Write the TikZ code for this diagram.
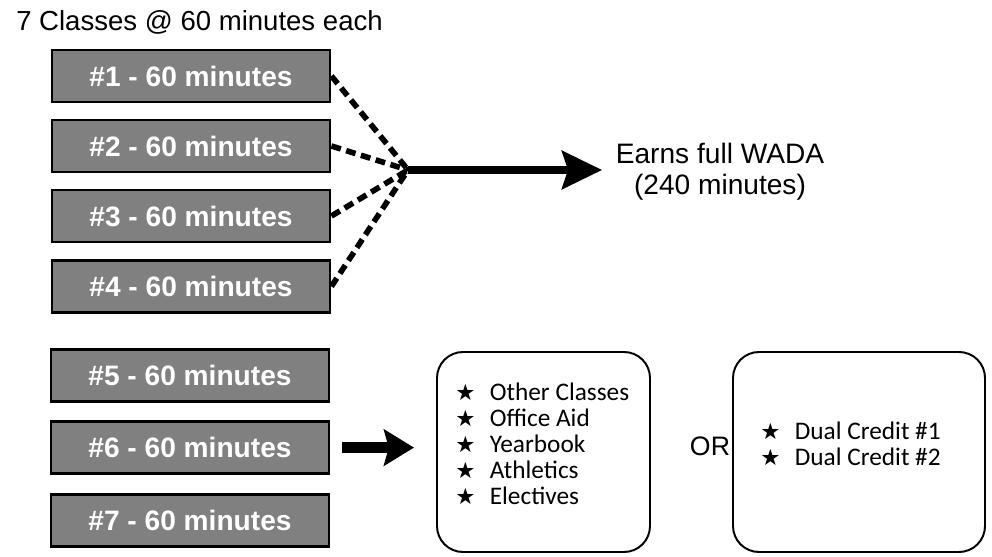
\documentclass[tikz,border=0pt]{standalone}
\usepackage{fontspec}
\setmainfont{Liberation Sans}
\newfontfamily\calfont{Carlito}
\newfontfamily\symfont{DejaVu Sans}
\usetikzlibrary{arrows.meta}
\colorlet{slotgray}{black!50}
\newcommand{\itm}[1]{{\symfont\fontsize{16}{16}\selectfont★}\hspace{0.36cm}#1}

\begin{document}
\begin{tikzpicture}
\tikzset{slot/.style={draw=black, line width=2pt, fill=slotgray, minimum width=6.95cm, minimum height=1.3cm, text=white, font=\fontsize{20}{20}\selectfont\bfseries}}
\tikzset{choice/.style={draw, line width=1.4pt, rounded corners=0.65cm, minimum height=5cm}}
\tikzset{dashlink/.style={line width=4pt, dash pattern=on 7pt off 4pt}}
\tikzset{bigarrow/.style={-{Stealth[length=1cm,width=0.95cm,inset=0.15cm]}, line width=5.5pt}}
\tikzset{listtext/.style={anchor=west, inner sep=0, align=left, font=\calfont\fontsize{18}{18.5}\selectfont}}
\useasboundingbox (0,0) rectangle (24.8,-13.925);
\node[anchor=west, inner sep=0, font=\fontsize{19.6}{19.6}\selectfont] (title) at (0.4,-0.55) {7 Classes @ 60 minutes each};
\node[slot] (b1) at (4.775,-1.9) {\#1 - 60 minutes};
\node[slot] (b2) at (4.775,-3.65) {\#2 - 60 minutes};
\node[slot] (b3) at (4.775,-5.4) {\#3 - 60 minutes};
\node[slot] (b4) at (4.775,-7.16) {\#4 - 60 minutes};
\node[slot] (b5) at (4.75,-9.39) {\#5 - 60 minutes};
\node[slot] (b6) at (4.75,-11.19) {\#6 - 60 minutes};
\node[slot] (b7) at (4.75,-13.01) {\#7 - 60 minutes};
\coordinate (hub) at (10.2,-4.25);
\node[align=center, font=\fontsize{20}{22}\selectfont] (wada) at (18.0,-4.3) {Earns full WADA\\(240 minutes)};
\foreach \b in {b1,b2,b3,b4}
  \draw[dashlink] (\b.east) -- (hub);
\draw[bigarrow, shorten >=0.22cm] (hub) -- (hub -| wada.west);
% the two choices for the last periods
\node[choice, minimum width=5.325cm] (ch1) at (13.5875,-11.3) {};
\node[choice, minimum width=6.3cm] (ch2) at (21.475,-11.3) {};
\node[listtext] (list1) at (11.375,-11.1) {\itm{Other Classes}\\\itm{Office Aid}\\\itm{Yearbook}\\\itm{Athletics}\\\itm{Electives}};
\node[listtext] (list2) at (19.0,-11.1) {\itm{Dual Credit \#1}\\\itm{Dual Credit \#2}};
\node[font=\fontsize{19}{19}\selectfont] (or) at (17.75,-11.15) {OR};
\draw[-{Stealth[length=0.75cm,width=0.9cm,inset=0.12cm]}, line width=7.5pt, shorten <=0.3cm, shorten >=0.55cm] (b6.east) -- (b6.east -| ch1.west);
\end{tikzpicture}
\end{document}
